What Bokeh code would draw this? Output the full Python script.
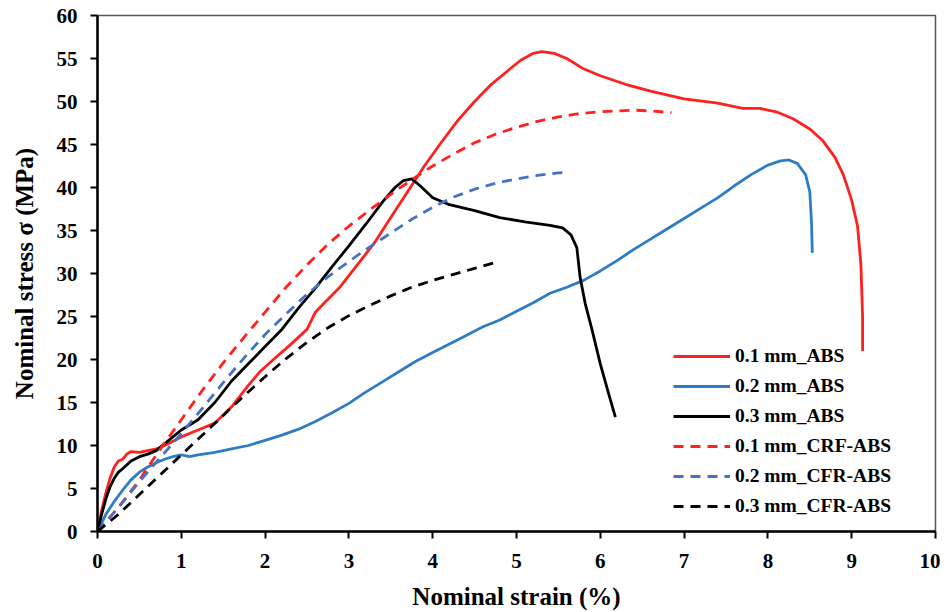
from bokeh.plotting import figure
from bokeh.models import Range1d, FixedTicker, Legend, LegendItem
from bokeh.embed import file_html
from bokeh.resources import INLINE

# ---- data ----
abs01_x = [0, 0.05, 0.1, 0.15, 0.2, 0.25, 0.3, 0.35, 0.4, 0.5, 0.6, 0.7, 0.8, 0.9, 1.0, 1.2, 1.4, 1.6, 1.8, 1.95,
           2.1, 2.3, 2.5, 2.6, 2.7, 2.9, 3.1, 3.3, 3.5, 3.7, 3.9, 4.1, 4.3, 4.5, 4.7, 4.9, 5.05, 5.2, 5.3, 5.45,
           5.6, 5.8, 6.0, 6.3, 6.6, 7.0, 7.4, 7.7, 7.9, 8.1, 8.3, 8.5, 8.65, 8.8, 8.9, 9.0, 9.07, 9.11, 9.13, 9.13]
abs01_y = [0, 2.5, 4.5, 6.2, 7.5, 8.2, 8.4, 9.0, 9.3, 9.2, 9.4, 9.6, 10.0, 10.5, 11.0, 11.8, 12.6, 14.5, 17.0, 18.7,
           20.0, 21.7, 23.5, 25.5, 26.5, 28.5, 31.0, 33.5, 36.5, 39.5, 42.5, 45.2, 47.8, 50.0, 52.0, 53.6, 54.8, 55.6, 55.8, 55.6,
           55.0, 53.8, 53.0, 52.0, 51.2, 50.3, 49.8, 49.2, 49.2, 48.8, 48.0, 46.8, 45.5, 43.5, 41.5, 38.5, 35.5, 31.0, 25.0, 21.0]

abs02_x = [0, 0.1, 0.2, 0.3, 0.4, 0.5, 0.6, 0.7, 0.8, 0.9, 1.0, 1.1, 1.2, 1.4, 1.6, 1.8, 2.0, 2.2, 2.4, 2.6,
           2.8, 3.0, 3.2, 3.4, 3.6, 3.8, 4.0, 4.2, 4.4, 4.6, 4.8, 5.0, 5.2, 5.4, 5.6, 5.8, 6.0, 6.2, 6.4, 6.6,
           6.8, 7.0, 7.2, 7.4, 7.6, 7.8, 8.0, 8.15, 8.25, 8.35, 8.45, 8.5, 8.52, 8.53]
abs02_y = [0, 2.0, 3.5, 4.8, 6.0, 6.9, 7.5, 8.0, 8.4, 8.7, 8.9, 8.7, 8.9, 9.2, 9.6, 10.0, 10.6, 11.2, 11.9, 12.8,
           13.8, 14.9, 16.2, 17.4, 18.6, 19.8, 20.8, 21.8, 22.8, 23.8, 24.6, 25.6, 26.6, 27.7, 28.4, 29.2, 30.3, 31.5, 32.8, 34.0,
           35.2, 36.4, 37.6, 38.8, 40.2, 41.5, 42.6, 43.1, 43.2, 42.8, 41.5, 39.5, 36.0, 32.4]

abs03_x = [0, 0.05, 0.1, 0.15, 0.2, 0.25, 0.3, 0.4, 0.5, 0.6, 0.7, 0.8, 0.9, 1.0, 1.2, 1.4, 1.6, 1.8, 2.0, 2.2,
           2.4, 2.6, 2.8, 3.0, 3.2, 3.4, 3.55, 3.65, 3.75, 3.85, 4.0, 4.2, 4.5, 4.8, 5.1, 5.4, 5.55, 5.65, 5.72, 5.76,
           5.82, 5.9, 6.0, 6.1, 6.18]
abs03_y = [0, 2.0, 3.8, 5.2, 6.2, 6.9, 7.3, 8.2, 8.7, 9.0, 9.4, 10.2, 11.0, 11.8, 13.0, 15.0, 17.5, 19.5, 21.5, 23.5,
           26.0, 28.3, 30.8, 33.2, 35.7, 38.3, 40.0, 40.8, 41.0, 40.2, 38.8, 38.0, 37.3, 36.5, 36.0, 35.6, 35.3, 34.5, 33.0, 29.5,
           26.5, 23.5, 19.5, 16.0, 13.3]

crf01_x = [0, 0.25, 0.5, 0.75, 1.0, 1.25, 1.5, 1.75, 2.0, 2.25, 2.5, 2.75, 3.0, 3.25, 3.5, 3.75, 4.0, 4.25, 4.5, 4.75,
           5.0, 5.25, 5.5, 5.75, 6.0, 6.2, 6.4, 6.6, 6.85]
crf01_y = [0, 2.8, 6.0, 9.6, 13.0, 16.4, 19.6, 22.6, 25.5, 28.4, 31.0, 33.4, 35.5, 37.4, 39.2, 40.9, 42.5, 43.9, 45.2, 46.2,
           47.0, 47.7, 48.2, 48.6, 48.8, 48.9, 49.0, 48.9, 48.7]

cfr02_x = [0, 0.25, 0.5, 0.75, 1.0, 1.25, 1.5, 1.75, 2.0, 2.25, 2.5, 2.75, 3.0, 3.25, 3.5, 3.75, 4.0, 4.25, 4.5, 4.75,
           5.0, 5.25, 5.5, 5.62]
cfr02_y = [0, 2.8, 5.8, 8.6, 11.4, 14.3, 17.3, 20.2, 22.9, 25.3, 27.6, 29.6, 31.4, 33.1, 34.7, 36.3, 37.7, 38.9, 39.8, 40.5,
           41.0, 41.4, 41.7, 41.8]

cfr03_x = [0, 0.25, 0.5, 0.75, 1.0, 1.25, 1.5, 1.75, 2.0, 2.25, 2.5, 2.75, 3.0, 3.25, 3.5, 3.75, 4.0, 4.25, 4.5, 4.75]
cfr03_y = [0, 2.0, 4.3, 6.6, 8.9, 11.2, 13.5, 15.8, 18.0, 20.1, 22.0, 23.7, 25.1, 26.3, 27.4, 28.4, 29.2, 29.9, 30.6, 31.3]

series_labels = ["0.1 mm_ABS", "0.2 mm_ABS", "0.3 mm_ABS",
                 "0.1 mm_CRF-ABS", "0.2 mm_CFR-ABS", "0.3 mm_CFR-ABS"]
x_ticks = [0, 1, 2, 3, 4, 5, 6, 7, 8, 9, 10]
y_ticks = [0, 5, 10, 15, 20, 25, 30, 35, 40, 45, 50, 55, 60]

FONT = "Liberation Serif"

p = figure(width=940, height=612, output_backend="svg", toolbar_location=None,
           x_range=Range1d(0, 10), y_range=Range1d(0, 60),
           min_border_left=97, min_border_right=5, min_border_top=15, min_border_bottom=81)
p.grid.visible = False
p.outline_line_color = "#555555"
p.outline_line_width = 1.5
p.background_fill_color = "white"
p.border_fill_color = "white"

series = [
    (abs01_x, abs01_y, "#FF2020", "solid"),
    (abs02_x, abs02_y, "#2E7CC4", "solid"),
    (abs03_x, abs03_y, "#000000", "solid"),
    (crf01_x, crf01_y, "#FF2020", "10 7"),
    (cfr02_x, cfr02_y, "#4472C4", "10 7"),
    (cfr03_x, cfr03_y, "#000000", "10 7"),
]
items = []
for (xs, ys, col, dash), lab in zip(series, series_labels):
    r = p.line(xs, ys, line_color=col, line_width=2.8, line_dash=dash)
    items.append(LegendItem(label=lab, renderers=[r]))

for ax in (p.xaxis[0], p.yaxis[0]):
    ax.axis_line_width = 2.5
    ax.axis_line_color = "black"
    ax.major_tick_line_width = 2
    ax.major_tick_in = 0
    ax.major_tick_out = 7
    ax.minor_tick_line_color = None
    ax.major_label_text_font = FONT
    ax.major_label_text_font_style = "bold"
    ax.major_label_text_font_size = "21px"
    ax.major_label_text_color = "black"
    ax.axis_label_text_font = FONT
    ax.axis_label_text_font_style = "bold"
    ax.axis_label_text_font_size = "25px"
    ax.axis_label_text_color = "black"

p.xaxis.ticker = FixedTicker(ticks=x_ticks)
p.yaxis.ticker = FixedTicker(ticks=y_ticks)
p.xaxis.axis_label = "Nominal strain (%)"
p.yaxis.axis_label = "Nominal stress σ (MPa)"
p.xaxis.major_label_standoff = 15
p.xaxis.axis_label_standoff = 12
p.yaxis.major_label_standoff = 13
p.yaxis.axis_label_standoff = 16

legend = Legend(items=items, location=(576, 14))
legend.padding = 0
legend.margin = 0
legend.border_line_alpha = 0
legend.background_fill_alpha = 0
legend.glyph_width = 57
legend.glyph_height = 20
legend.label_height = 20
legend.spacing = 8
legend.label_standoff = 5
legend.label_text_font = FONT
legend.label_text_font_style = "bold"
legend.label_text_font_size = "19.5px"
legend.label_text_color = "black"
p.add_layout(legend, "center")

open("out.html", "w").write(file_html(p, INLINE))
